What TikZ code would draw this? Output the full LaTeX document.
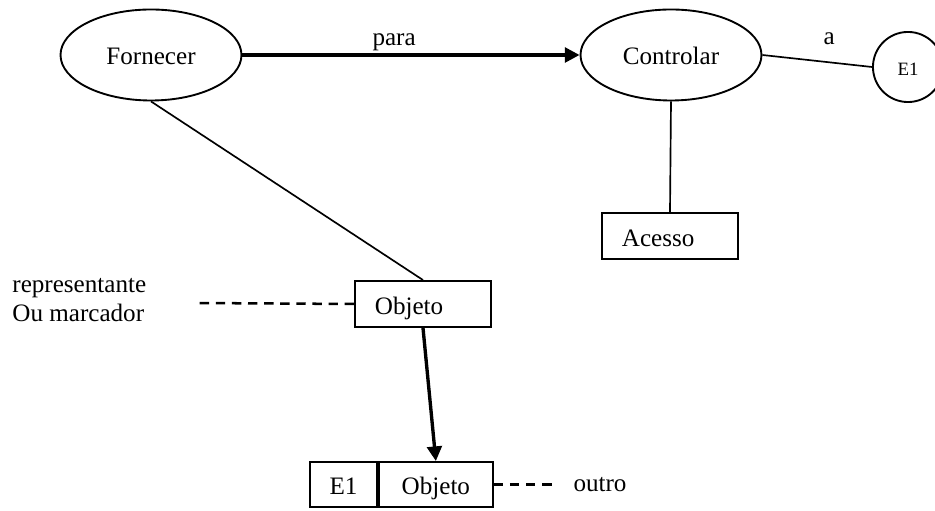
\documentclass[tikz,border=0pt]{standalone}
\usepackage{fontspec}
\setmainfont{Liberation Serif}
\usetikzlibrary{arrows.meta,positioning,shapes.geometric}
\tikzset{
  base/.style={font=\fontsize{12}{14}\selectfont},
  ell/.style={base,draw,line width=0.9pt,ellipse,inner sep=0pt,
              minimum width=86.5pt,minimum height=43.5pt,text height=11pt,text depth=1.6pt},
  ring/.style={draw,line width=0.9pt,circle,inner sep=0pt,minimum size=33.5pt,
               font=\fontsize{9}{11}\selectfont,text height=10pt,text depth=1.4pt},
  rect/.style={base,draw,line width=0.9pt,rectangle,minimum height=22pt,
               inner xsep=9.5pt,text width=46pt,align=left,text height=12pt,text depth=2.4pt},
  cell/.style={base,draw,line width=0.9pt,rectangle,minimum height=21.5pt,inner xsep=0pt,
               text height=12pt,text depth=2pt},
  arr/.style={-{Triangle[length=7pt,width=7pt]},line width=1.6pt},
  thin/.style={line width=0.8pt},
  dsh/.style={line width=1.2pt,dash pattern=on 4.5pt off 3.2pt},
  lbl/.style={base,align=left},
}
\begin{document}
\begin{tikzpicture}[x=0.478pt,y=-0.478pt]
  \useasboundingbox (0,0) rectangle (935,511);
  % top row
  \node[ell] (forn) at (151,55) {Fornecer};
  \node[ell] (ctrl) at (671,55) {Controlar};
  \node[ring] (e1c) at (908,67) {E1};
  % boxes
  \node[rect] (acesso) at (670,236) {Acesso};
  \node[rect] (obj) at (423,304) {Objeto};
  \node[cell,minimum width=32pt] (e1b) at (343.5,484.5) {E1};
  \node[cell,minimum width=54.5pt,right=0pt of e1b] (objb) {Objeto};
  % side notes
  \node[lbl,anchor=west] (repl) at (5,300) {representante\\Ou marcador};
  \coordinate (repend) at (195,303);
  \node[lbl] (outro) at (600,485) {outro};
  \coordinate (outend) at (557,484.5);
  % connectors
  \draw[arr] (forn.east) -- node[lbl,pos=0.45,above=-2pt]{para} (ctrl.west);
  \draw[thin] (ctrl.east) -- node[lbl,pos=0.61,above=4.5pt]{a} (e1c.west);
  \draw[thin] (ctrl.south) -- (acesso.north);
  \draw[thin] (forn.south) -- (obj.north);
  \draw[arr] (obj.south) -- (objb.north);
  \draw[dsh] (obj.west) -- (repend);
  \draw[dsh] (objb.east) -- (outend);
\end{tikzpicture}
\end{document}
